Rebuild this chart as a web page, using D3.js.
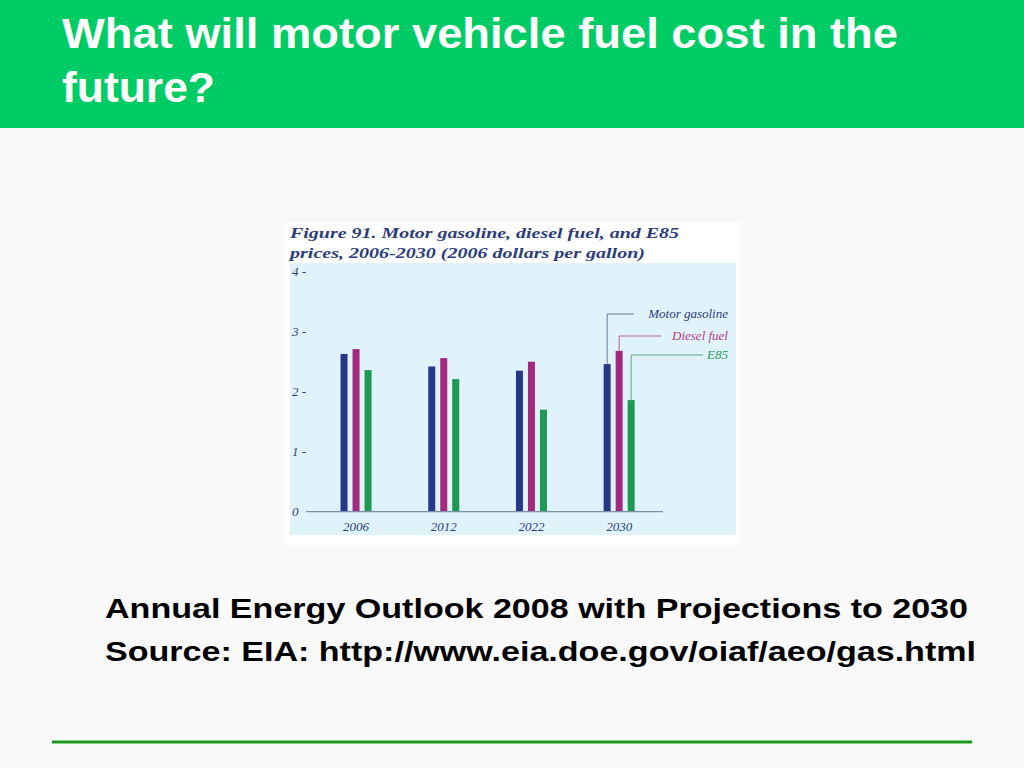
<!DOCTYPE html>
<html><head><meta charset="utf-8">
<script src="https://cdn.jsdelivr.net/npm/d3@7/dist/d3.min.js"></script>
<style>body{margin:0;background:#f9f9f9;}svg{display:block;}</style>
</head><body>
<svg id="c" width="1024" height="768"></svg>
<script>
const years = ["2006","2012","2022","2030"];
const seriesNames = ["Motor gasoline","Diesel fuel","E85"];
const gasoline = [2.63, 2.42, 2.35, 2.46];
const diesel   = [2.71, 2.56, 2.50, 2.68];
const e85      = [2.36, 2.21, 1.70, 1.86];
const yTicks = [0,1,2,3,4];
const colors = ["#27378a","#a12a7e","#1f9a55"];
const seriesValues = [gasoline, diesel, e85];

const svg = d3.select("#c");
// header
svg.append("rect").attr("x",0).attr("y",0).attr("width",1024).attr("height",128).attr("fill","#00cc66");
const title = ["What will motor vehicle fuel cost in the","future?"];
const titleLens = [836, 153];
svg.selectAll("text.title").data(title).enter().append("text")
  .attr("x",62).attr("y",(d,i)=>48+i*54)
  .attr("font-family","Liberation Sans, Arial, sans-serif").attr("font-weight","bold")
  .attr("font-size",43).attr("fill","#ffffff").text(d=>d)
  .attr("textLength",(d,i)=>titleLens[i]).attr("lengthAdjust","spacingAndGlyphs");

// figure box
svg.append("rect").attr("x",285).attr("y",222).attr("width",455).attr("height",323).attr("fill","#ffffff");
svg.append("rect").attr("x",290).attr("y",263).attr("width",446).attr("height",272).attr("fill","#e1f3fa");

const serif = "Liberation Serif, DejaVu Serif, serif";
const navy = "#2c3d7c";
const figTitle = ["Figure 91. Motor gasoline, diesel fuel, and E85","prices, 2006-2030 (2006 dollars per gallon)"];
const figLens = [389, 355];
svg.selectAll("text.ft").data(figTitle).enter().append("text")
  .attr("x",290).attr("y",(d,i)=>238+i*20)
  .attr("font-family",serif).attr("font-weight","bold").attr("font-style","italic")
  .attr("font-size",15.5).attr("fill",navy).text(d=>d)
  .attr("textLength",(d,i)=>figLens[i]).attr("lengthAdjust","spacingAndGlyphs");

const y = d3.scaleLinear().domain([0,4]).range([511.7,271.7]);
const x = d3.scaleBand().domain(years).range([312.2,663]).padding(0);
const xs = d3.scalePoint().domain(seriesNames).range([-12,12]);
const barW = 7;

// y ticks
const yg = svg.append("g");
yTicks.forEach(t=>{
  yg.append("text").attr("x",292).attr("y",y(t)+4)
    .attr("font-family",serif).attr("font-style","italic").attr("font-size",13)
    .attr("fill",navy).text(t===0? "0" : t+" -");
});

// bars
seriesNames.forEach((s,si)=>{
  svg.append("g").selectAll("rect").data(years).enter().append("rect")
    .attr("x",(d)=>x(d)+x.bandwidth()/2+xs(s)-barW/2)
    .attr("y",(d,i)=>y(seriesValues[si][i]))
    .attr("width",barW)
    .attr("height",(d,i)=>y(0)-y(seriesValues[si][i]))
    .attr("fill",colors[si]);
});

// x axis line
svg.append("line").attr("x1",306).attr("x2",663).attr("y1",y(0)).attr("y2",y(0))
  .attr("stroke","#7f8fa8").attr("stroke-width",1.2);
svg.append("g").selectAll("text").data(years).enter().append("text")
  .attr("x",d=>x(d)+x.bandwidth()/2).attr("y",531)
  .attr("text-anchor","middle").attr("font-family",serif).attr("font-style","italic")
  .attr("font-size",13).attr("fill",navy).text(d=>d);

// legend leaders from last group
const lastIdx = years.length-1;
const legendY = [314, 336, 355];
const legendEnd = [634, 661, 703];
const legendColors = ["#2c3d7c","#b23a8a","#2a9d5f"];
const lineColors = ["#6c7894","#b0608f","#5aa87c"];
seriesNames.forEach((s,si)=>{
  const cx = x(years[lastIdx])+x.bandwidth()/2+xs(s);
  const top = y(seriesValues[si][lastIdx]);
  svg.append("path").attr("d",`M${cx},${top}V${legendY[si]}H${legendEnd[si]}`)
    .attr("fill","none").attr("stroke",lineColors[si]).attr("stroke-width",1);
  svg.append("text").attr("x",728).attr("y",legendY[si]+4).attr("text-anchor","end")
    .attr("font-family",serif).attr("font-style","italic").attr("font-size",13)
    .attr("fill",legendColors[si]).text(s);
});

// footer text
const foot = ["Annual Energy Outlook 2008 with Projections to 2030","Source: EIA: http://www.eia.doe.gov/oiaf/aeo/gas.html"];
const footLens = [863, 871];
svg.selectAll("text.foot").data(foot).enter().append("text")
  .attr("x",105).attr("y",(d,i)=>618+i*43)
  .attr("font-family","Liberation Sans, Arial, sans-serif").attr("font-weight","bold")
  .attr("font-size",28.5).attr("fill","#000000").text(d=>d)
  .attr("textLength",(d,i)=>footLens[i]).attr("lengthAdjust","spacingAndGlyphs");

svg.append("line").attr("x1",52).attr("x2",972).attr("y1",742).attr("y2",742)
  .attr("stroke","#1a9a1a").attr("stroke-width",3);
</script>
</body></html>
